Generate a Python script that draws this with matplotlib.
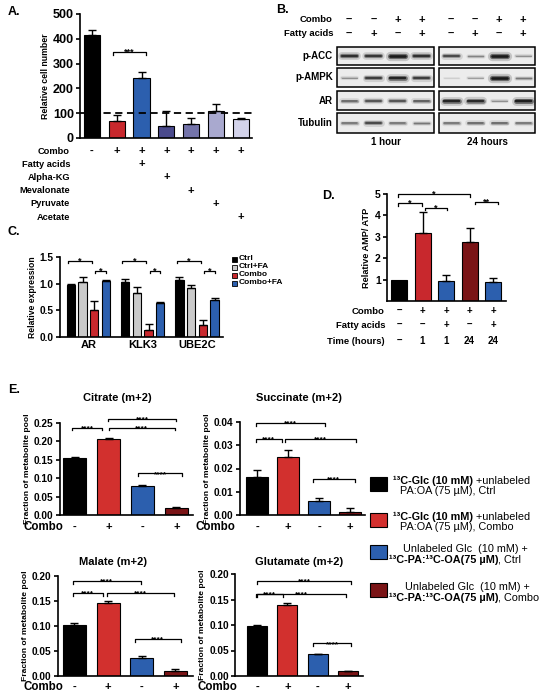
import numpy as np
import matplotlib.pyplot as plt
import matplotlib.transforms as mtransforms
from matplotlib.patches import Rectangle

plt.rcParams['font.family'] = ['Liberation Sans', 'DejaVu Sans']
plt.rcParams['font.weight'] = 'bold'
plt.rcParams['axes.labelweight'] = 'bold'
plt.rcParams['axes.linewidth'] = 1.2

# panel A
a_values = [415, 68, 240, 47, 55, 108, 75]
a_errors = [20, 25, 25, 62, 27, 30, 4]
a_rows = ['Combo', 'Fatty acids', 'Alpha-KG', 'Mevalonate', 'Pyruvate', 'Acetate']
a_signs = [
    ['-', '+', '+', '+', '+', '+', '+'],
    ['', '', '+', '', '', '', ''],
    ['', '', '', '+', '', '', ''],
    ['', '', '', '', '+', '', ''],
    ['', '', '', '', '', '+', ''],
    ['', '', '', '', '', '', '+'],
]

# panel B (band darkness 0..1 per lane)
b_rows = ['p-ACC', 'p-AMPK', 'AR', 'Tubulin']
b_combo = ['–', '–', '+', '+']
b_fa = ['–', '+', '–', '+']
b_1h = [[0.8, 0.75, 1.0, 0.8],
        [0.3, 0.7, 0.9, 0.7],
        [0.5, 0.6, 0.6, 0.55],
        [0.45, 0.65, 0.45, 0.4]]
b_24h = [[0.65, 0.35, 1.0, 0.3],
         [0.1, 0.25, 1.0, 0.4],
         [0.9, 0.85, 0.3, 0.95],
         [0.45, 0.5, 0.5, 0.45]]

# panel C
c_genes = ['AR', 'KLK3', 'UBE2C']
c_groups = ['Ctrl', 'Ctrl+FA', 'Combo', 'Combo+FA']
c_ctrl = [0.97, 1.04, 1.06]
c_ctrl_fa = [1.04, 0.82, 0.92]
c_combo = [0.50, 0.14, 0.22]
c_combo_fa = [1.05, 0.64, 0.70]
c_ctrl_err = [0.03, 0.04, 0.06]
c_ctrl_fa_err = [0.08, 0.11, 0.06]
c_combo_err = [0.17, 0.10, 0.10]
c_combo_fa_err = [0.01, 0.01, 0.04]

# panel D
d_values = [1.0, 3.2, 0.95, 2.75, 0.87]
d_errors = [0, 0.95, 0.25, 0.65, 0.22]
d_combo = ['–', '+', '+', '+', '+']
d_fa = ['–', '–', '+', '–', '+']
d_time = ['–', '1', '1', '24', '24']

# panel E
citrate = [0.155, 0.207, 0.079, 0.020]
citrate_err = [0.002, 0.003, 0.003, 0.003]
succinate = [0.0163, 0.0250, 0.0062, 0.0015]
succinate_err = [0.003, 0.003, 0.0013, 0.0015]
malate = [0.103, 0.146, 0.036, 0.011]
malate_err = [0.004, 0.005, 0.005, 0.004]
glutamate = [0.099, 0.140, 0.043, 0.009]
glutamate_err = [0.0015, 0.003, 0.001, 0.001]
e_combo = ['-', '+', '-', '+']

RED = '#c8282d'
BLUE = '#2c5fae'
DARKRED = '#7a1416'

W, H = 550, 696
fig = plt.figure(figsize=(W / 100, H / 100), dpi=100)
ov = fig.add_axes([0, 0, 1, 1])
ov.set_xlim(0, W)
ov.set_ylim(H, 0)
ov.axis('off')


def px_axes(x0, y0, x1, y1):
    ax = fig.add_axes([x0 / W, 1 - y1 / H, (x1 - x0) / W, (y1 - y0) / H])
    ax.set_facecolor('none')
    ax.spines[['top', 'right']].set_visible(False)
    ax.tick_params(axis='y', direction='out', length=3, width=1.2, pad=1.5)
    ax.tick_params(axis='x', length=0)
    return ax


def under(ax):
    return mtransforms.blended_transform_factory(ax.transData, ov.transData)


def bars(ax, x, values, errors, colors, width):
    ax.bar(x, values, width=width, color=colors, edgecolor='k', linewidth=0.8, zorder=2)
    errors = np.asarray(errors, dtype=float)
    m = errors > 0
    ax.errorbar(np.asarray(x)[m], np.asarray(values)[m], yerr=[np.zeros(m.sum()), errors[m]],
                fmt='none', ecolor='k', elinewidth=1, capsize=2.8, capthick=1, zorder=3)


def bracket(ax, x1, x2, y, label, drop, fs=6.5):
    ax.plot([x1, x1, x2, x2], [y - drop, y, y, y - drop], color='k', lw=0.9,
            clip_on=False, zorder=4)
    ax.annotate(label, xy=((x1 + x2) / 2, y), xytext=(0, -1.8), textcoords='offset points',
                ha='center', va='baseline', fontsize=fs, annotation_clip=False)


# ---------------- A
ov.text(8, 12, 'A.', fontsize=9, va='center')
axA = px_axes(80, 14, 252, 138)
xa = np.arange(len(a_values))
bars(axA, xa, a_values, a_errors,
     ['#000000', RED, BLUE, '#4a4a8c', '#7474aa', '#a9a9cf', '#d3d3ea'], 0.65)
axA.axhline(100, color='k', lw=1.3, ls=(0, (4, 2.5)), zorder=3)
axA.set_xlim(-0.48, 6.45)
axA.set_ylim(0, 500)
axA.set_yticks(range(0, 501, 100))
axA.set_xticks([])
axA.tick_params(axis='y', labelsize=9)
axA.set_ylabel('Relative cell number', fontsize=6.3, labelpad=2)
bracket(axA, 0.84, 2.18, 348, '***', 12)
tr = under(axA)
for r, (name, signs) in enumerate(zip(a_rows, a_signs)):
    y = 151 + r * 13.2
    ov.text(70, y, name, ha='right', va='center', fontsize=6.7)
    for i, s in enumerate(signs):
        if s:
            ov.text(i, y, s, transform=tr, ha='center', va='center', fontsize=8)

# ---------------- B
ov.text(276, 10, 'B.', fontsize=9, va='center')
b_boxes = [(337, 434), (439, 535)]
b_row_y = [(47, 65), (68, 87), (91, 110), (113, 133)]
ov.text(333, 20, 'Combo', ha='right', va='center', fontsize=6.8)
ov.text(333, 34, 'Fatty acids', ha='right', va='center', fontsize=6.8)
for (y0, y1), name in zip(b_row_y, b_rows):
    ov.text(333, (y0 + y1) / 2, name, ha='right', va='center', fontsize=7)
for (x0, x1), bands, title in zip(b_boxes, [b_1h, b_24h], ['1 hour', '24 hours']):
    lane = (x1 - x0) / 4
    for k in range(4):
        xc = x0 + (k + 0.5) * lane
        ov.text(xc, 20, b_combo[k], ha='center', va='center', fontsize=8)
        ov.text(xc, 34, b_fa[k], ha='center', va='center', fontsize=8)
    for (y0, y1), row in zip(b_row_y, bands):
        ov.add_patch(Rectangle((x0, y0), x1 - x0, y1 - y0, facecolor='#ececec',
                               edgecolor='k', lw=1.1))
        yc = (y0 + y1) / 2
        for k, v in enumerate(row):
            xc = x0 + (k + 0.5) * lane
            for scale, alpha in [(1.8, 0.18), (1.0, 0.5), (0.5, 0.9)]:
                ov.plot([xc - 7.5, xc + 7.5], [yc, yc], color='#111111', alpha=alpha * v,
                        lw=(1.2 + 4 * v) * scale * 0.72, solid_capstyle='round')
    ov.text((x0 + x1) / 2, 142, title, ha='center', va='center', fontsize=7)

# ---------------- C
ov.text(8, 232, 'C.', fontsize=9, va='center')
axC = px_axes(60, 257, 223, 337)
offs = (np.arange(4) - 1.5) * 0.216
c_series = [c_ctrl, c_ctrl_fa, c_combo, c_combo_fa]
c_errs = [c_ctrl_err, c_ctrl_fa_err, c_combo_err, c_combo_fa_err]
c_colors = ['#000000', '#cacaca', RED, BLUE]
for k in range(4):
    bars(axC, np.arange(3) + offs[k], c_series[k], c_errs[k], c_colors[k], 0.153)
axC.set_xlim(-0.525, 2.48)
axC.set_ylim(0, 1.5)
axC.set_yticks([0, 0.5, 1.0, 1.5])
axC.set_yticklabels(['0.0', '0.5', '1.0', '1.5'])
axC.tick_params(axis='y', labelsize=7.3)
axC.set_xticks(range(3))
axC.set_xticklabels(c_genes, fontsize=8)
axC.tick_params(axis='x', pad=2)
axC.set_ylabel('Relative expression', fontsize=6.2, labelpad=2)
for g in range(3):
    bracket(axC, g + offs[0] - 0.05, g + offs[2] - 0.04, 1.43, '*', 0.04)
    bracket(axC, g + offs[2] + 0.02, g + offs[3], 1.24, '*', 0.04)
for k, name in enumerate(c_groups):
    y = 259 + k * 8
    ov.add_patch(Rectangle((232, y - 2.5), 5, 5, facecolor=c_colors[k], edgecolor='k', lw=0.6))
    ov.text(239, y, name, ha='left', va='center', fontsize=6)

# ---------------- D
ov.text(322, 196, 'D.', fontsize=9, va='center')
axD = px_axes(387, 194, 506, 301)
xd = np.arange(len(d_values))
bars(axD, xd, d_values, d_errors, ['#000000', RED, BLUE, DARKRED, BLUE], 0.68)
axD.set_xlim(-0.51, 4.55)
axD.set_ylim(0, 5)
axD.set_yticks([1, 2, 3, 4, 5])
axD.set_xticks([])
axD.tick_params(axis='y', labelsize=7.5)
axD.set_ylabel('Relative AMP/ ATP', fontsize=6.6, labelpad=3)
bracket(axD, -0.04, 0.97, 4.57, '*', 0.13)
bracket(axD, 1.1, 2.04, 4.36, '*', 0.13)
bracket(axD, -0.04, 3.02, 5.0, '*', 0.13)
bracket(axD, 3.23, 4.2, 4.64, '**', 0.13)
trd = under(axD)
for name, signs, y in [('Combo', d_combo, 311), ('Fatty acids', d_fa, 325),
                       ('Time (hours)', d_time, 341)]:
    ov.text(385, y, name, ha='right', va='center', fontsize=6.8)
    for i, s in enumerate(signs):
        ov.text(i, y, s, transform=trd, ha='center', va='center', fontsize=7)

# ---------------- E
ov.text(8, 390, 'E.', fontsize=9, va='center')
e_colors = ['#000000', '#d2302e', BLUE, DARKRED]
e_specs = [
    ('Citrate (m+2)', citrate, citrate_err, (60, 423, 193, 515), 0.25, 0.05,
     (-0.43, 3.49), 0.68, 117, 398, 527, 63,
     [(-0.07, 0.82, 0.237, 0.007), (1.0, 2.96, 0.237, 0.007),
      (0.98, 3.0, 0.262, 0.007), (1.88, 3.16, 0.113, 0.007)]),
    ('Succinate (m+2)', succinate, succinate_err, (240, 422, 365, 515), 0.04, 0.01,
     (-0.55, 3.48), 0.71, 299, 398, 527, 235,
     [(-0.05, 2.2, 0.0396, 0.0012), (-0.05, 0.8, 0.0327, 0.0012),
      (0.9, 3.2, 0.0327, 0.0012), (1.8, 3.15, 0.0155, 0.0012)]),
    ('Malate (m+2)', malate, malate_err, (58, 576, 193, 676), 0.20, 0.05,
     (-0.49, 3.52), 0.68, 113, 562, 687, 63,
     [(-0.05, 1.97, 0.19, 0.006), (-0.05, 0.85, 0.166, 0.006),
      (0.98, 2.95, 0.166, 0.006), (1.8, 3.15, 0.074, 0.006)]),
    ('Glutamate (m+2)', glutamate, glutamate_err, (235, 574, 363, 676), 0.20, 0.05,
     (-0.73, 3.5), 0.66, 299, 562, 687, 237,
     [(0.0, 3.1, 0.186, 0.006), (-0.05, 0.85, 0.161, 0.006),
      (0.0, 2.95, 0.161, 0.006), (1.85, 3.1, 0.064, 0.006)]),
]
for (title, vals, errs, box, ymax, step, xlim, width, tx, ty, cy, cx, brs) in e_specs:
    ax = px_axes(*box)
    xe = np.arange(4)
    bars(ax, xe, vals, errs, e_colors, width)
    ax.set_xlim(*xlim)
    ax.set_ylim(0, ymax)
    ticks = np.arange(0, ymax + step / 2, step)
    ax.set_yticks(ticks)
    ax.set_yticklabels([f'{t:.2f}' for t in ticks])
    ax.set_xticks([])
    ax.tick_params(axis='y', labelsize=7.3)
    ax.set_ylabel('Fraction of metabolite pool', fontsize=6.1, labelpad=2)
    for x1, x2, y, d in brs:
        bracket(ax, x1, x2, y, '****', d, fs=6)
    ov.text(tx, ty, title, ha='center', va='center', fontsize=8)
    ov.text(cx, cy, 'Combo', ha='right', va='center', fontsize=8.3)
    tre = under(ax)
    for i, s in enumerate(e_combo):
        ov.text(i, cy, s, transform=tre, ha='center', va='center', fontsize=8)

e_legend = [
    ('#000000', 484, [('¹³C-Glc (10 mM)', 'bold'), (' +unlabeled', 'normal')],
     [('PA:OA (75 µM), Ctrl', 'normal')], 393, 400),
    ('#d2302e', 520, [('¹³C-Glc (10 mM)', 'bold'), (' +unlabeled', 'normal')],
     [('PA:OA (75 µM), Combo', 'normal')], 393, 400),
    (BLUE, 552, [('Unlabeled Glc  (10 mM) +', 'normal')],
     [('¹³C-PA:¹³C-OA(75 µM)', 'bold'), (', Ctrl', 'normal')], 403, 389),
    (DARKRED, 590, [('Unlabeled Glc  (10 mM) +', 'normal')],
     [('¹³C-PA:¹³C-OA(75 µM)', 'bold'), (', Combo', 'normal')], 405, 389),
]


def rich_line(x, y, parts, fs=7.8):
    t = None
    for s, w in parts:
        if t is None:
            t = ov.text(x, y, s, fontsize=fs, fontweight=w, ha='left', va='center')
        else:
            t = ov.annotate(s, xy=(1, 0.5), xycoords=t, fontsize=fs, fontweight=w,
                            ha='left', va='center')


for color, yc, line1, line2, x1, x2 in e_legend:
    ov.add_patch(Rectangle((370, yc - 7), 17, 14, facecolor=color, edgecolor='k', lw=0.8))
    rich_line(x1, yc - 3, line1)
    rich_line(x2, yc + 7.5, line2)

fig.savefig('out.png', dpi=100)
